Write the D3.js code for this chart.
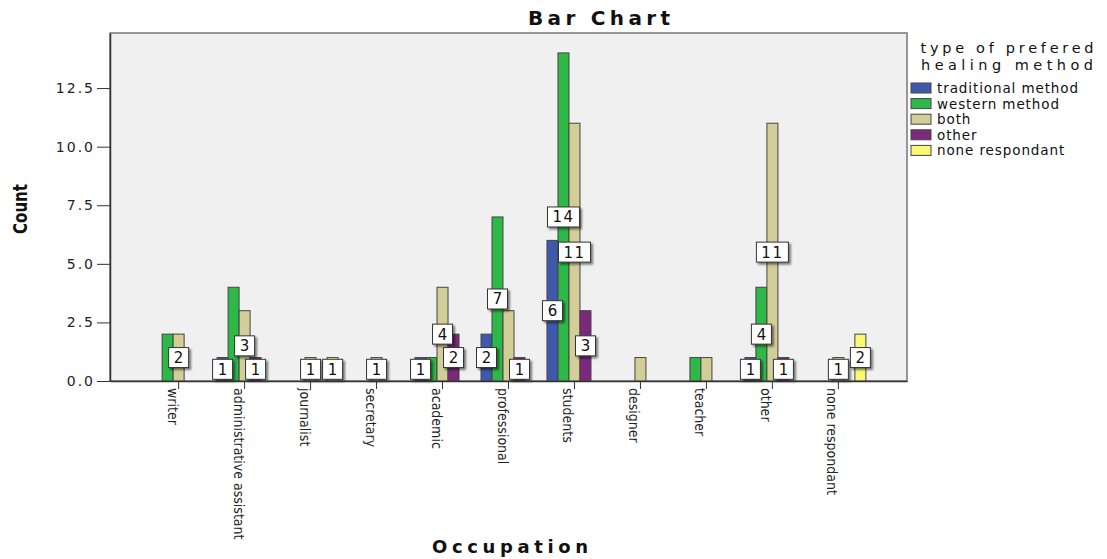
<!DOCTYPE html>
<html lang="en">
<head>
<meta charset="utf-8">
<title>Bar Chart</title>
<script src="https://cdn.jsdelivr.net/npm/d3@7"></script>
<style>
body { margin:0; background:#fff; }
.tick text { fill:#222; }
.xlab { font-family:"Liberation Sans Narrow","DejaVu Sans Condensed",sans-serif; font-size:14px; fill:#111; }
.ylab { font-family:"DejaVu Sans",sans-serif; font-size:14px; letter-spacing:2px; fill:#222; }
.legend text { font-family:"DejaVu Sans",sans-serif; fill:#111; }
.vlabel { font-family:"DejaVu Sans",sans-serif; font-size:15px; fill:#111; }
</style>
</head>
<body>
<div id="chart"></div>
<script>
// data
var occupations = ["writer", "administrative assistant", "journalist", "secretary", "academic",
	"professional", "students", "designer", "teacher", "other", "none respondant"];
var methods = ["traditional method", "western method", "both", "other", "none respondant"];
var methodColors = ["#3e58ac", "#2eb848", "#d3ce97", "#7c287d", "#fbf873"];
// counts per occupation, in the order of methods
var counts = [
	[0, 2, 2, 0, 0],
	[1, 4, 3, 1, 0],
	[0, 0, 1, 0, 1],
	[0, 0, 1, 0, 0],
	[1, 1, 4, 2, 0],
	[2, 7, 3, 1, 0],
	[6, 14, 11, 3, 0],
	[0, 0, 1, 0, 0],
	[0, 1, 1, 0, 0],
	[1, 4, 11, 1, 0],
	[0, 0, 1, 0, 2]
];
// which bars carry a value label (method index)
var labeled = [[2], [0, 2, 3], [2, 4], [2], [0, 2, 3], [0, 1, 3], [0, 1, 2, 3], [], [], [0, 1, 2, 3], [2, 4]];
var yTicks = [0, 2.5, 5, 7.5, 10, 12.5];

(function(){
	var W = 1107, H = 559;
	var plot = {left:110, top:33, right:907, bottom:381};

	var svg = d3.select("#chart").append("svg").attr("width", W).attr("height", H);

	var x0 = d3.scaleBand().domain(occupations).range([plot.left, plot.right])
		.paddingInner(0).paddingOuter(0.54);
	var x1 = d3.scaleBand().domain(d3.range(methods.length)).range([-27.5, 27.5]);
	var y = d3.scaleLinear().domain([0, 14.85]).range([plot.bottom, plot.top]);

	// shadow for label boxes
	var f = svg.append("defs").append("filter").attr("id", "sh").attr("x", "-20%").attr("y", "-20%")
		.attr("width", "150%").attr("height", "150%");
	f.append("feGaussianBlur").attr("in", "SourceAlpha").attr("stdDeviation", 0.8);
	f.append("feOffset").attr("dx", 1.5).attr("dy", 1.5).attr("result", "ob");
	f.append("feComponentTransfer").append("feFuncA").attr("type", "linear").attr("slope", 0.5);
	var m = f.append("feMerge");
	m.append("feMergeNode");
	m.append("feMergeNode").attr("in", "SourceGraphic");

	// plot frame
	svg.append("rect").attr("x", plot.left).attr("y", plot.top)
		.attr("width", plot.right - plot.left).attr("height", plot.bottom - plot.top)
		.attr("fill", "#f0f0f0").attr("stroke", "#777").attr("stroke-width", 1.5);

	// bars
	var groups = svg.append("g").selectAll("g").data(occupations).enter().append("g")
		.attr("transform", function(d){ return "translate(" + (x0(d) + x0.bandwidth() / 2) + ",0)"; });
	groups.selectAll("rect")
		.data(function(d, i){ return counts[i].map(function(v, j){ return {v:v, j:j}; }).filter(function(e){ return e.v > 0; }); })
		.enter().append("rect")
			.attr("x", function(e){ return x1(e.j); })
			.attr("width", x1.bandwidth())
			.attr("y", function(e){ return y(e.v); })
			.attr("height", function(e){ return y(0) - y(e.v); })
			.attr("fill", function(e){ return methodColors[e.j]; })
			.attr("stroke", "#444").attr("stroke-width", 1);

	// value labels
	groups.each(function(d, i){
		var g = d3.select(this);
		labeled[i].forEach(function(j){
			var v = counts[i][j], s = String(v);
			var bw = s.length > 1 ? 32 : 20, bh = 20;
			var cx = x1(j) + x1.bandwidth() / 2;
			var cy = Math.min((y(0) + y(v)) / 2, plot.bottom - bh / 2 - 1);
			var lg = g.append("g").attr("transform", "translate(" + cx + "," + cy + ")");
			lg.append("rect").attr("x", -bw / 2).attr("y", -bh / 2).attr("width", bw).attr("height", bh)
				.attr("fill", "#fff").attr("stroke", "#333").attr("stroke-width", 1).attr("filter", "url(#sh)");
			lg.append("text").attr("class", "vlabel").attr("text-anchor", "middle").attr("dy", "0.36em")
				.attr("letter-spacing", s.length > 1 ? 1.5 : 0).text(s);
		});
	});

	// y axis
	var yAxis = svg.append("g").attr("transform", "translate(" + plot.left + ",0)")
		.call(d3.axisLeft(y).tickValues(yTicks).tickFormat(d3.format(".1f")).tickSize(13).tickSizeOuter(0).tickPadding(2));
	yAxis.select(".domain").attr("stroke", "#333").attr("stroke-width", 1.5);
	yAxis.selectAll(".tick line").attr("stroke", "#333");
	yAxis.selectAll(".tick text").attr("class", "ylab").attr("font-size", null).attr("font-family", null);

	// x axis
	var xAxis = svg.append("g").attr("transform", "translate(0," + plot.bottom + ")")
		.call(d3.axisBottom(x0).tickSize(8).tickSizeOuter(0));
	xAxis.select(".domain").attr("stroke", "#333").attr("stroke-width", 1.5);
	xAxis.selectAll(".tick line").attr("stroke", "#333");
	xAxis.selectAll(".tick text")
		.attr("class", "xlab").attr("font-size", null).attr("font-family", null)
		.attr("text-anchor", "start")
		.attr("transform", "translate(-11,7) rotate(90)")
		.attr("x", 0).attr("y", 0).attr("dy", 0);

	// titles
	svg.append("text").attr("x", 599).attr("y", 25).attr("text-anchor", "middle")
		.attr("font-family", "'DejaVu Sans', sans-serif").attr("font-weight", "bold").attr("font-size", 20)
		.attr("textLength", 142).attr("lengthAdjust", "spacing").attr("fill", "#111").text("Bar Chart");
	svg.append("text").attr("x", 510).attr("y", 553).attr("text-anchor", "middle")
		.attr("font-family", "'DejaVu Sans', sans-serif").attr("font-weight", "bold").attr("font-size", 18)
		.attr("textLength", 156).attr("lengthAdjust", "spacing").attr("fill", "#111").text("Occupation");
	svg.append("text").attr("transform", "translate(27,209) rotate(-90)").attr("text-anchor", "middle")
		.attr("font-family", "'Liberation Sans Narrow', 'DejaVu Sans Condensed', sans-serif")
		.attr("font-weight", "bold").attr("font-size", 19)
		.attr("textLength", 50).attr("lengthAdjust", "spacingAndGlyphs").attr("fill", "#111").text("Count");

	// legend
	var legend = svg.append("g").attr("class", "legend");
	legend.append("text").attr("x", 1007).attr("y", 53).attr("text-anchor", "middle").attr("font-size", 14.5)
		.attr("textLength", 173).attr("lengthAdjust", "spacing").text("type of prefered");
	legend.append("text").attr("x", 1007).attr("y", 70).attr("text-anchor", "middle").attr("font-size", 14.5)
		.attr("textLength", 172).attr("lengthAdjust", "spacing").text("healing method");
	var items = legend.selectAll("g.item").data(methods).enter().append("g").attr("class", "item")
		.attr("transform", function(d, i){ return "translate(911," + (83 + i * 15.6) + ")"; });
	items.append("rect").attr("width", 20).attr("height", 10)
		.attr("fill", function(d, i){ return methodColors[i]; }).attr("stroke", "#444");
	items.append("text").attr("x", 26).attr("y", 10).attr("font-size", 13.5).attr("letter-spacing", 0.9)
		.text(function(d){ return d; });
})();
</script>
</body>
</html>
